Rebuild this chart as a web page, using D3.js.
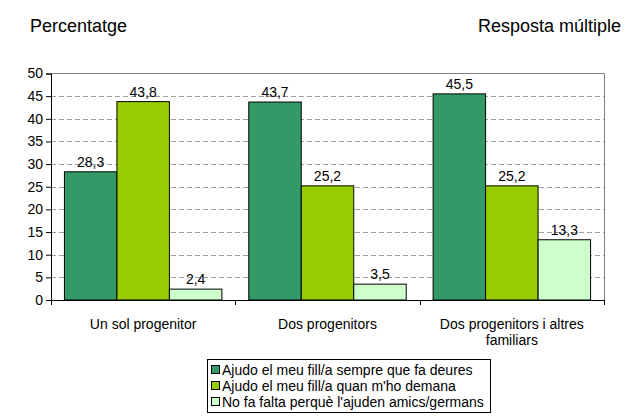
<!DOCTYPE html>
<html>
<head>
<meta charset="utf-8">
<script src="https://cdn.jsdelivr.net/npm/d3@7"></script>
<style>
  body { margin: 0; background: #fff; }
  svg { display: block; font-family: "Liberation Sans", Arial, sans-serif; }
</style>
</head>
<body>
<svg width="628" height="419"></svg>
<script>
// data
const categories = ["Un sol progenitor", "Dos progenitors", "Dos progenitors i altres familiars"];
const categoryLines = [["Un sol progenitor"], ["Dos progenitors"], ["Dos progenitors i altres", "familiars"]];
const seriesNames = [
  "Ajudo el meu fill/a sempre que fa deures",
  "Ajudo el meu fill/a quan m'ho demana",
  "No fa falta perquè l'ajuden amics/germans"
];
const seriesColors = ["#339966", "#99cc00", "#ccffcc"];
const sempre = [28.3, 43.7, 45.5];
const quanDemana = [43.8, 25.2, 25.2];
const noFaFalta = [2.4, 3.5, 13.3];
const yTicks = [0, 5, 10, 15, 20, 25, 30, 35, 40, 45, 50];

const series = [sempre, quanDemana, noFaFalta];

const svg = d3.select("svg");
const plotL = 51, plotR = 604, plotT = 73.5, plotB = 300;

const x0 = d3.scaleBand().domain(categories).range([plotL, plotR]);
const x1 = d3.scaleBand().domain(d3.range(3)).range([0, x0.bandwidth()]).paddingOuter(0.256);
const y = d3.scaleLinear().domain([0, 50]).range([plotB, plotT]);

// titles
svg.append("text").attr("x", 30).attr("y", 32)
  .style("font-size", "18px").text("Percentatge");
svg.append("text").attr("x", 621).attr("y", 32).attr("text-anchor", "end")
  .style("font-size", "18px").text("Resposta múltiple");

// gridlines
svg.append("g").selectAll("line")
  .data(yTicks.filter(d => d > 0 && d < 50))
  .join("line")
  .attr("x1", plotL).attr("x2", plotR)
  .attr("y1", d => Math.round(y(d)) + 0.5).attr("y2", d => Math.round(y(d)) + 0.5)
  .attr("stroke", "#a0a0a0")
  .attr("stroke-dasharray", "5,3");

// plot frame (top and right)
svg.append("path")
  .attr("d", `M${plotL},${plotT}H${plotR + 0.5}V${plotB}`)
  .attr("fill", "none").attr("stroke", "#808080");

// bars
const groups = svg.append("g").selectAll("g")
  .data(categories)
  .join("g")
  .attr("transform", d => `translate(${x0(d)},0)`);

groups.selectAll("rect")
  .data((c, ci) => series.map((s, si) => ({ si, v: s[ci] })))
  .join("rect")
  .attr("x", d => x1(d.si))
  .attr("y", d => y(d.v))
  .attr("width", x1.bandwidth())
  .attr("height", d => y(0) - y(d.v))
  .attr("fill", d => seriesColors[d.si])
  .attr("stroke", "#000")
  .attr("stroke-width", 1);

groups.selectAll("text")
  .data((c, ci) => series.map((s, si) => ({ si, v: s[ci] })))
  .join("text")
  .attr("x", d => x1(d.si) + x1.bandwidth() / 2)
  .attr("y", d => y(d.v) - 5)
  .attr("text-anchor", "middle")
  .style("font-size", "14px")
  .text(d => String(d.v).replace(".", ","));

// y axis
const yAxis = svg.append("g")
  .attr("transform", `translate(${plotL},0)`)
  .call(d3.axisLeft(y).tickValues(yTicks).tickSize(5).tickPadding(3));
yAxis.selectAll("text").style("font-size", "14px").style("font-family", "Liberation Sans, Arial, sans-serif").attr("fill", "#000");
yAxis.selectAll("line, path").attr("stroke", "#000");

// x axis with ticks at category boundaries
const xb = svg.append("g");
xb.append("line").attr("x1", plotL).attr("x2", plotR + 0.5)
  .attr("y1", plotB + 0.5).attr("y2", plotB + 0.5).attr("stroke", "#000");
xb.selectAll("line.tk")
  .data([...categories.map(c => x0(c)), plotR])
  .join("line").attr("class", "tk")
  .attr("x1", d => Math.round(d) + 0.5).attr("x2", d => Math.round(d) + 0.5)
  .attr("y1", plotB).attr("y2", plotB + 5)
  .attr("stroke", "#000");

xb.selectAll("text.cat")
  .data(categories)
  .join("text").attr("class", "cat")
  .attr("x", d => x0(d) + x0.bandwidth() / 2)
  .attr("y", 329)
  .attr("text-anchor", "middle")
  .style("font-size", "14px")
  .each(function (d, i) {
    d3.select(this).selectAll("tspan")
      .data(categoryLines[i])
      .join("tspan")
      .attr("x", x0(d) + x0.bandwidth() / 2)
      .attr("dy", (t, j) => j ? 16 : 0)
      .text(t => t);
  });

// legend
const lg = svg.append("g");
lg.append("rect").attr("x", 207.5).attr("y", 359.5).attr("width", 283).attr("height", 53)
  .attr("fill", "#fff").attr("stroke", "#000");
const items = lg.selectAll("g.item").data(seriesNames).join("g").attr("class", "item")
  .attr("transform", (d, i) => `translate(211,${365 + i * 16})`);
items.append("rect").attr("x", 0.5).attr("y", 0.5).attr("width", 8).attr("height", 8)
  .attr("fill", (d, i) => seriesColors[i]).attr("stroke", "#000");
items.append("text").attr("x", 11).attr("y", 9.5)
  .style("font-size", "14px").text(d => d);
</script>
</body>
</html>
